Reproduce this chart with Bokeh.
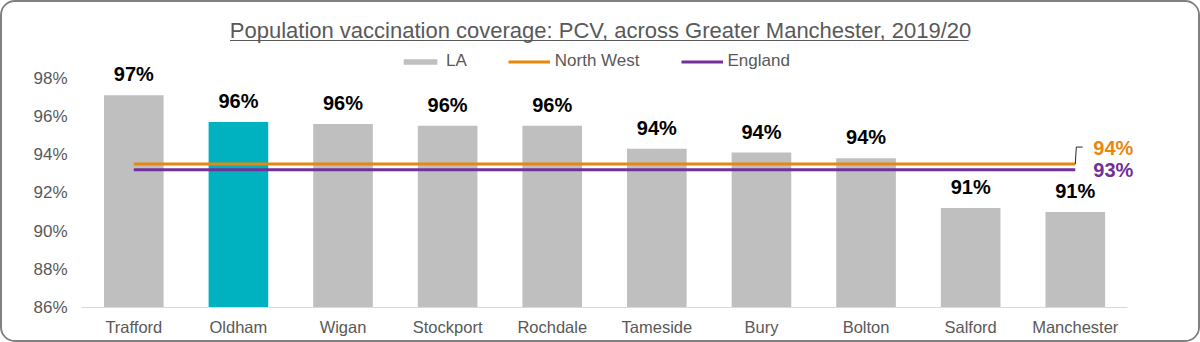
from bokeh.plotting import figure
from bokeh.models import (Range1d, ColumnDataSource, LabelSet, Label,
                          Legend, LegendItem, FixedTicker, PrintfTickFormatter,
                          CustomJSTickFormatter)
from bokeh.core.properties import value
from bokeh.embed import file_html
from bokeh.resources import INLINE

# ---- data ----
areas = ["Trafford", "Oldham", "Wigan", "Stockport", "Rochdale",
         "Tameside", "Bury", "Bolton", "Salford", "Manchester"]
coverage = [97.1, 95.7, 95.6, 95.5, 95.5, 94.3, 94.1, 93.8, 91.2, 91.0]
north_west = 93.5
england = 93.2
highlight = "Oldham"
y_ticks = [86, 88, 90, 92, 94, 96, 98]
title_text = "Population vaccination coverage: PCV, across Greater Manchester, 2019/20"

# ---- style ----
FONT = "Liberation Sans"
GREY_TEXT = "#595959"
BAR_GREY = "#bfbfbf"
TEAL = "#00b2bf"
ORANGE = "#e8870e"
PURPLE = "#71309a"

W, H = 1200, 342
PX_PER_UNIT = 19.125
Y0 = 86
FRAME_H = 305
Y1 = Y0 + FRAME_H / PX_PER_UNIT
N = len(areas)
X_END = N + 0.2

def pct(v):
    return f"{int(v + 0.5)}%"

positions = [i + 0.5 for i in range(N)]
colors = [TEAL if a == highlight else BAR_GREY for a in areas]
src = ColumnDataSource(dict(x=positions, area=areas, cov=coverage, color=colors,
                            label=[pct(v) for v in coverage]))

p = figure(width=W, height=H, x_range=Range1d(0, X_END), y_range=Range1d(Y0, Y1),
           output_backend="svg", toolbar_location=None,
           min_border_left=79, min_border_right=54, min_border_top=0,
           min_border_bottom=H - FRAME_H)
p.styles = {"border": "2.5px solid #808080", "border-radius": "15px", "overflow": "hidden"}
p.outline_line_color = None
p.xgrid.grid_line_color = None
p.ygrid.grid_line_color = None
p.background_fill_color = "white"
p.border_fill_color = "white"

bars = p.vbar(x="x", top="cov", bottom=Y0, width=0.57, fill_color="color",
              line_color=None, source=src)

nw_line = p.line(x=[positions[0], positions[-1]], y=[north_west, north_west],
                 line_color=ORANGE, line_width=3)
en_line = p.line(x=[positions[0], positions[-1]], y=[england, england],
                 line_color=PURPLE, line_width=3)

# leader line from the North West line end to its label
last_x = positions[-1]
lead_y = north_west + 17 / PX_PER_UNIT
p.line(x=[last_x, last_x + 0.01, last_x + 0.07], y=[north_west, lead_y, lead_y],
       line_color="#262626", line_width=1)

p.add_layout(Label(x=last_x, y=north_west, x_offset=18, y_offset=16, text=pct(north_west),
                   text_color=ORANGE, text_font=FONT, text_font_style="bold",
                   text_font_size="20px", text_baseline="middle", text_align="left"))
p.add_layout(Label(x=last_x, y=england, x_offset=18, y_offset=0, text=pct(england),
                   text_color=PURPLE, text_font=FONT, text_font_style="bold",
                   text_font_size="20px", text_baseline="middle", text_align="left"))

p.add_layout(LabelSet(x="x", y="cov", text="label", source=src, y_offset=14,
                      text_align="center", text_baseline="alphabetic",
                      text_font=value(FONT), text_font_style="bold",
                      text_font_size="20px", text_color="black"))

# title with underline
p.add_layout(Label(x=N / 2, y=Y1, x_offset=-4, y_offset=-28, text=title_text,
                   text_align="center", text_baseline="middle", text_font=FONT,
                   text_font_size="22px", text_color=GREY_TEXT))
ul_y = Y1 - 38 / PX_PER_UNIT
p.line(x=[1.42, 8.48], y=[ul_y, ul_y], line_color=GREY_TEXT, line_width=1)

# axes
p.yaxis.ticker = FixedTicker(ticks=y_ticks)
p.yaxis.formatter = PrintfTickFormatter(format="%d%%")
p.yaxis.axis_line_color = None
p.yaxis.major_tick_line_color = None
p.yaxis.minor_tick_line_color = None
p.yaxis.major_tick_out = 0
p.yaxis.major_tick_in = 0
p.yaxis.major_label_standoff = 14
p.yaxis.major_label_text_font = FONT
p.yaxis.major_label_text_font_size = "17px"
p.yaxis.major_label_text_color = GREY_TEXT

p.xaxis.ticker = FixedTicker(ticks=positions)
p.xaxis.formatter = CustomJSTickFormatter(args=dict(names=areas),
                                          code="return names[Math.floor(tick)] || '';")
p.xaxis.bounds = (0, N)
p.xaxis.axis_line_color = "#d9d9d9"
p.xaxis.axis_line_width = 1
p.xaxis.major_tick_line_color = None
p.xaxis.minor_tick_line_color = None
p.xaxis.major_tick_out = 0
p.xaxis.major_tick_in = 0
p.xaxis.major_label_standoff = 10
p.xaxis.major_label_text_font = FONT
p.xaxis.major_label_text_font_size = "16.5px"
p.xaxis.major_label_text_color = GREY_TEXT

legend = Legend(items=[LegendItem(label="LA", renderers=[bars], index=0),
                       LegendItem(label="North West", renderers=[nw_line]),
                       LegendItem(label="England", renderers=[en_line])],
                orientation="horizontal", location=(318, FRAME_H - 69),
                glyph_width=42, glyph_height=7, label_standoff=5, spacing=41,
                padding=0, margin=0, label_height=20,
                label_text_font=FONT, label_text_font_size="17px",
                label_text_color=GREY_TEXT, border_line_color=None,
                background_fill_alpha=0)
p.add_layout(legend)

open("out.html", "w").write(file_html(p, INLINE))
